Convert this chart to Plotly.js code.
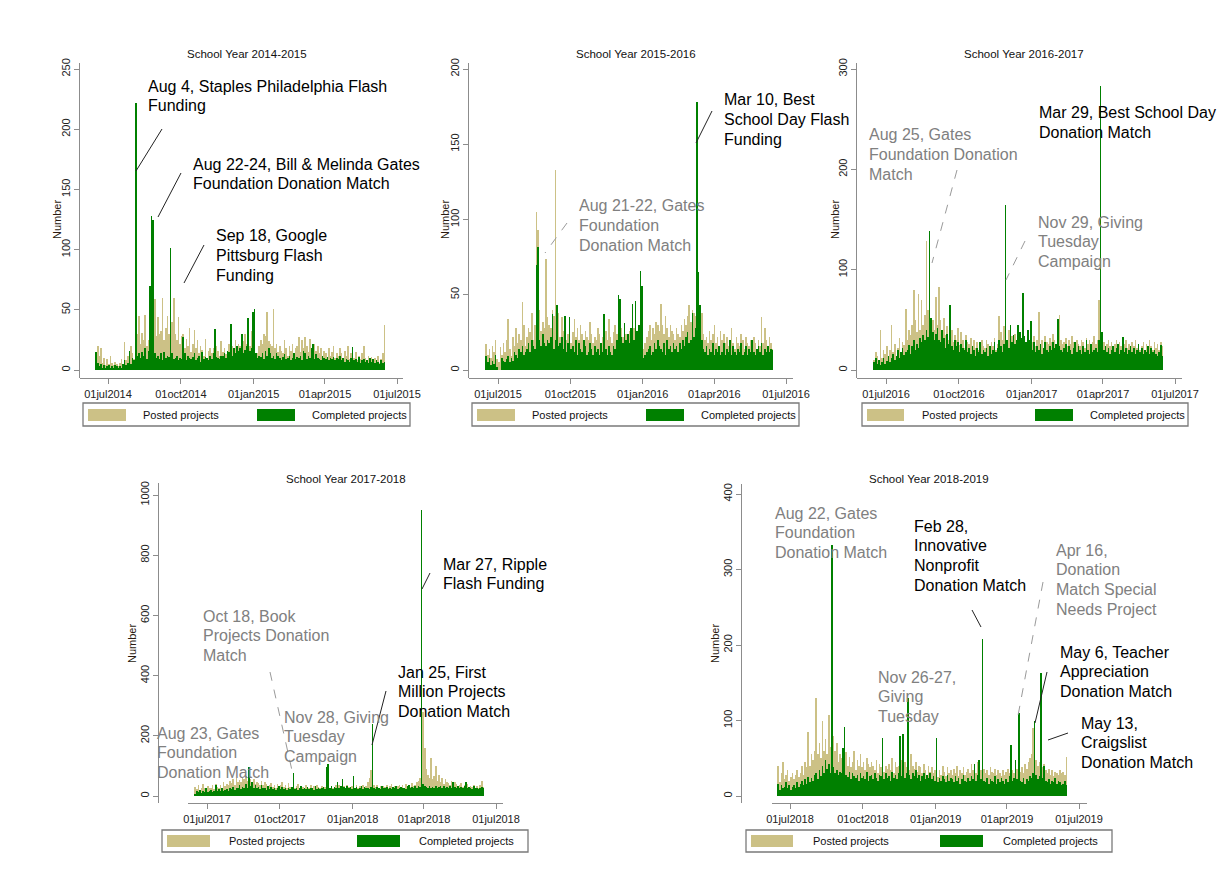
<!DOCTYPE html>
<html><head><meta charset="utf-8">
<script src="https://cdn.plot.ly/plotly-3.0.1.min.js"></script>
<style>html,body{margin:0;padding:0;background:#fff}#chart{width:1225px;height:888px}</style>
</head><body><div id="chart"></div>
<script>
// ---------------- DATA ----------------
const panelTitles = ["School Year 2014-2015","School Year 2015-2016","School Year 2016-2017","School Year 2017-2018","School Year 2018-2019"];
const seriesNames = ["Posted projects","Completed projects"];
// each value = one 2-day bin, starting on these dates
const startDates = ["2014-06-15","2015-06-15","2016-06-15","2017-06-15","2018-06-15"];
const binDays = 2;

const posted2014 = [
8,20,12,18,6,10,4,9,5,12,
6,4,7,5,3,6,9,4,23,8,
12,10,20,14,9,28,30,45,22,31,
25,46,20,25,30,38,35,59,28,44,
30,32,60,25,35,45,30,28,40,60,
30,25,44,22,28,30,18,26,20,35,
15,22,33,18,25,14,20,17,12,26,
10,16,18,14,18,10,20,16,12,24,
15,18,13,10,22,12,20,16,25,18,
22,20,28,24,30,22,26,20,32,18,
15,12,14,20,25,22,30,28,48,24,
22,20,51,18,22,15,20,16,14,25,
18,12,20,16,22,14,18,20,27,15,
25,18,27,20,15,26,18,12,22,16,
20,14,18,12,16,14,10,18,12,15,
20,10,14,12,18,14,10,16,12,20,
9,14,11,10,15,8,12,9,14,20,
10,8,12,9,11,7,10,8,12,6,
9,14,37];
const completed2014 = [
15,6,3,5,2,4,2,3,4,2,
3,2,4,3,2,3,2,5,8,4,
6,16,5,10,8,222,12,14,10,15,
12,18,9,16,70,128,125,14,10,12,
9,14,8,15,10,12,11,101,14,9,
10,12,8,10,9,27,14,8,12,10,
9,11,14,8,10,12,7,15,9,11,
10,8,12,9,14,34,11,10,9,12,
12,14,10,16,15,38,12,18,14,20,
16,18,30,14,17,20,43,16,18,48,
51,14,10,12,11,14,9,16,12,18,
14,10,12,9,14,12,10,8,11,13,
9,10,12,8,10,14,9,11,10,12,
8,16,14,9,12,10,18,22,9,13,
10,9,8,12,10,9,11,8,10,9,
11,8,10,9,12,8,10,7,9,8,
7,10,19,8,9,7,11,6,8,9,
7,8,6,10,7,9,6,8,7,5,
8,6,7];

const posted2015 = [
17,10,14,8,16,12,20,7,5,15,
10,18,12,20,34,14,9,22,16,28,
18,24,20,45,30,16,22,28,25,38,
20,30,105,93,40,26,32,28,74,35,
30,28,40,36,133,30,38,22,35,26,
30,20,24,32,18,25,34,22,28,20,
30,24,18,26,22,20,32,24,18,22,
20,28,24,18,22,30,26,20,34,22,
18,25,30,24,38,36,28,22,30,24,
20,26,22,32,28,34,26,30,38,36,
14,18,22,26,30,20,28,24,32,30,
26,44,30,24,36,28,22,30,26,24,
20,28,24,22,30,26,34,30,36,43,
32,40,38,36,34,30,28,38,24,20,
22,18,26,20,24,30,18,22,16,26,
20,24,18,22,16,20,28,18,14,22,
18,16,24,20,14,22,18,16,20,15,
22,18,14,20,16,35,18,28,20,16,
22,18,14];
const completed2015 = [
9,5,8,3,6,4,10,2,0,0,
8,6,5,7,9,5,8,6,12,10,
8,14,12,16,10,12,14,18,12,20,
16,14,70,82,20,16,24,18,16,20,
18,22,37,14,20,43,16,18,22,14,
36,12,18,35,14,16,12,20,10,18,
14,12,20,16,10,12,18,14,10,16,
12,14,10,18,12,37,14,10,16,12,
10,16,14,20,50,47,22,18,31,20,
24,18,28,44,20,46,26,30,66,56,
8,10,12,14,16,10,12,18,14,20,
16,14,12,18,10,20,14,16,12,18,
14,16,12,18,14,20,16,22,25,18,
20,38,22,28,178,65,43,20,14,12,
16,10,14,12,18,10,14,12,16,10,
12,18,10,14,12,20,10,16,12,10,
14,12,18,10,12,16,10,14,12,20,
12,10,14,16,12,18,10,14,12,16,
12,14,13];

const posted2016 = [
10,18,14,8,40,12,20,16,24,14,
20,45,18,26,14,22,32,18,28,25,
61,30,40,35,45,80,50,38,76,40,
70,45,55,129,60,52,45,50,40,73,
45,83,50,40,52,35,44,30,38,40,
28,35,30,42,25,38,30,22,35,28,
26,32,24,30,22,28,20,26,30,24,
22,30,26,20,28,24,32,20,26,54,
38,30,44,36,30,40,28,34,26,36,
30,40,34,28,38,32,26,30,22,36,
28,34,24,30,58,26,30,22,34,28,
26,32,28,36,30,24,40,55,30,26,
28,32,24,30,26,34,28,22,30,26,
24,30,28,22,32,26,30,24,28,34,
26,30,70,30,24,28,22,26,30,24,
28,20,26,30,22,28,24,20,26,30,
22,26,20,28,24,30,22,26,20,24,
28,20,26,22,30,24,20,28,22,26,
20,28,24];
const completed2016 = [
8,12,6,10,5,8,12,6,9,14,
8,12,16,10,14,20,12,18,22,15,
18,20,25,16,24,30,20,26,22,32,
28,35,30,40,33,139,52,38,30,36,
42,30,28,40,32,22,36,26,65,24,
20,30,24,28,18,26,22,20,30,18,
22,16,24,20,14,22,18,28,16,20,
18,22,14,24,16,20,28,18,22,30,
24,18,26,164,30,22,45,28,35,26,
30,45,38,32,77,34,28,40,30,49,
20,28,18,24,20,26,16,22,28,20,
18,24,20,28,22,26,51,24,20,18,
22,26,18,24,20,16,22,28,18,24,
20,16,24,18,30,20,16,26,18,20,
22,18,30,283,38,20,24,18,22,16,
20,24,18,22,26,16,20,33,18,22,
16,20,24,18,22,16,20,26,18,22,
16,20,18,24,16,22,18,20,16,14,
18,25,14];

const posted2017 = [
30,22,35,18,28,40,25,20,32,26,
28,35,22,40,30,25,38,28,45,32,
40,35,50,42,55,38,60,45,52,48,
60,55,65,50,70,58,45,55,40,48,
42,38,50,35,45,40,32,38,44,30,
36,28,40,32,38,45,30,35,28,42,
30,25,38,28,34,40,26,32,30,28,
35,30,26,38,28,32,25,36,30,28,
34,26,30,40,35,28,32,25,30,38,
28,35,30,26,32,28,36,30,25,32,
30,28,35,26,32,30,38,28,34,45,
60,85,40,35,30,38,28,32,26,34,
30,36,28,32,40,30,34,26,32,38,
30,35,28,40,32,36,30,42,34,38,
45,50,60,120,280,160,90,70,60,125,
55,65,100,50,70,45,60,40,55,48,
42,38,50,35,45,40,32,38,44,30,
36,32,40,28,34,30,38,26,32,28,
35,50,30];
const completed2017 = [
8,15,12,20,10,18,14,25,12,16,
20,14,18,38,15,22,18,25,16,20,
24,18,26,22,30,20,28,25,35,22,
30,26,40,28,95,32,45,28,38,25,
30,22,35,26,28,20,32,24,30,22,
26,20,28,34,22,30,24,28,20,26,
22,30,75,24,28,20,26,32,22,28,
24,30,22,26,28,20,32,24,26,22,
28,30,24,95,105,28,32,24,30,26,
45,28,32,55,30,26,34,28,30,24,
68,26,30,24,28,32,22,30,26,28,
24,30,240,28,22,30,26,24,32,28,
26,30,24,28,22,30,26,32,24,28,
30,26,28,24,32,38,28,30,26,34,
28,32,30,950,40,34,30,28,32,26,
30,28,34,26,30,32,28,34,26,30,
28,32,26,48,30,28,34,26,30,28,
32,45,26,30,28,24,32,26,28,22,
26,30,28];

const posted2018 = [
40,18,30,45,22,28,35,20,25,30,
22,28,35,25,30,40,28,45,38,85,
40,55,48,60,130,55,70,50,100,60,
75,55,107,65,50,80,60,70,45,55,
50,60,45,58,40,52,38,45,60,35,
48,40,55,38,45,35,50,42,38,45,
40,35,48,30,42,38,45,32,40,36,
42,35,50,30,45,38,40,35,48,32,
45,38,42,35,55,40,36,45,32,40,
38,30,42,35,28,40,32,38,30,35,
30,25,35,28,40,32,26,38,30,34,
28,36,30,40,26,34,30,38,28,32,
36,30,42,34,38,30,45,40,34,55,
36,30,34,28,38,32,30,36,28,34,
30,26,34,28,32,36,30,40,34,30,
45,36,40,32,38,30,42,36,45,50,
55,90,60,48,40,45,50,38,42,35,
30,36,28,34,26,32,30,28,34,30,
32,28,52];
const completed2018 = [
16,8,14,10,12,18,10,14,8,12,
15,10,18,12,16,20,14,22,16,25,
18,24,20,28,30,22,35,26,40,30,
48,36,42,30,332,38,30,35,28,32,
30,63,92,28,25,32,22,30,26,24,
28,20,30,24,26,22,32,20,26,28,
22,30,24,20,28,26,77,22,30,24,
26,20,32,24,28,22,30,79,26,82,
24,30,130,28,22,30,26,34,24,28,
20,26,30,22,28,24,30,22,26,20,
77,18,24,20,26,22,18,28,20,24,
22,18,26,20,24,16,22,28,20,18,
24,20,26,22,43,20,28,48,22,208,
20,18,24,16,22,20,18,26,16,22,
18,24,20,16,22,18,26,68,20,24,
48,22,110,20,18,24,16,22,20,26,
24,30,100,28,22,26,163,24,40,20,
18,22,16,20,18,24,16,20,18,14,
16,20,14];

const postedSeries = [posted2014, posted2015, posted2016, posted2017, posted2018];
const completedSeries = [completed2014, completed2015, completed2016, completed2017, completed2018];

const yTickVals = [[0,50,100,150,200,250],[0,50,100,150,200],[0,100,200,300],[0,200,400,600,800,1000],[0,100,200,300,400]];
const xTickDates = [
 ["2014-07-01","2014-10-01","2015-01-01","2015-04-01","2015-07-01"],
 ["2015-07-01","2015-10-01","2016-01-01","2016-04-01","2016-07-01"],
 ["2016-07-01","2016-10-01","2017-01-01","2017-04-01","2017-07-01"],
 ["2017-07-01","2017-10-01","2018-01-01","2018-04-01","2018-07-01"],
 ["2018-07-01","2018-10-01","2019-01-01","2019-04-01","2019-07-01"]];
const xTickText = [
 ["01jul2014","01oct2014","01jan2015","01apr2015","01jul2015"],
 ["01jul2015","01oct2015","01jan2016","01apr2016","01jul2016"],
 ["01jul2016","01oct2016","01jan2017","01apr2017","01jul2017"],
 ["01jul2017","01oct2017","01jan2018","01apr2018","01jul2018"],
 ["01jul2018","01oct2018","01jan2019","01apr2019","01jul2019"]];

// ---------------- LAYOUT / STYLE ----------------
const W = 1225, H = 888;
const FONT = "Arial, 'Liberation Sans', sans-serif";
const TAN = "#ccc186", GREEN = "#008000", AXIS = "#8c8c8c", GRAY = "#808080";
const DAY = 86400000;
const toMs = s => new Date(s + "T00:00:00Z").getTime();
const px = x => x / W, py = y => 1 - y / H;

// pixel geometry of each panel
const geom = [
 {yAxisPx:79,  xl:80,  xr:403,  yt:63,  yb:378, p1:108, p2:397,  y0:370, yT:69},
 {yAxisPx:468, xl:469, xr:793,  yt:63,  yb:378, p1:498, p2:786,  y0:370, yT:69},
 {yAxisPx:856, xl:857, xr:1182, yt:63,  yb:378, p1:886, p2:1175, y0:370, yT:69},
 {yAxisPx:158, xl:188, xr:503,  yt:483, yb:803, p1:207, p2:496,  y0:796, yT:495},
 {yAxisPx:741, xl:772, xr:1087, yt:484, yb:803, p1:790, p2:1079, y0:796, yT:494}];
const titlePos = [[247,54],[636,54],[1024,54],[346,479],[929,479]];
const numberPos = [[57,220],[445,220],[835,220],[132,644],[715,644]];
const legendGeom = [
 {box:[83,410,403,426], tan:[88,126], tt:143, grn:[257,295], gt:312, sw:[409,421], ty:414.5},
 {box:[472,799,403,426], tan:[477,515], tt:532, grn:[646,684], gt:701, sw:[409,421], ty:414.5},
 {box:[862,1188,403,426], tan:[867,904], tt:922, grn:[1035,1073], gt:1090, sw:[409,421], ty:414.5},
 {box:[162,528,830,852], tan:[167,210], tt:229, grn:[357,400], gt:419, sw:[835,847], ty:841},
 {box:[746,1112,830,852], tan:[751,793], tt:813, grn:[940,983], gt:1003, sw:[835,847], ty:841}];

const traces = [];
const layout = {
  width: W, height: H, margin:{l:0,r:0,t:0,b:0},
  paper_bgcolor:"#fff", plot_bgcolor:"#fff",
  showlegend:false, barmode:"overlay", bargap:0,
  font:{family:FONT, color:"#222"},
  annotations:[], shapes:[]
};

for (let p = 0; p < 5; p++) {
  const g = geom[p];
  const sfx = p === 0 ? "" : String(p + 1);
  const t0 = toMs(startDates[p]);
  const xs = postedSeries[p].map((_, i) => new Date(t0 + i * binDays * DAY).toISOString().slice(0, 10));
  const common = {type:"bar", x:xs, xaxis:"x"+sfx, yaxis:"y"+sfx, width:binDays*DAY, offset:0, hoverinfo:"skip"};
  traces.push(Object.assign({}, common, {y:postedSeries[p], name:seriesNames[0], marker:{color:TAN, line:{width:0}}}));
  traces.push(Object.assign({}, common, {y:completedSeries[p], name:seriesNames[1], marker:{color:GREEN, line:{width:0}}}));

  const t1 = toMs(xTickDates[p][0]), t2 = toMs(xTickDates[p][4]);
  const msPerPx = (t2 - t1) / (g.p2 - g.p1);
  const xr = [t1 + (g.xl - g.p1) * msPerPx, t1 + (g.xr - g.p1) * msPerPx];
  const top = yTickVals[p][yTickVals[p].length - 1];
  const uPerPx = top / (g.y0 - g.yT);
  const yr = [-(g.yb - g.y0) * uPerPx, top + (g.yT - g.yt) * uPerPx];

  layout["xaxis"+sfx] = {
    type:"date", domain:[px(g.xl), px(g.xr)], range:xr, anchor:"y"+sfx,
    tickvals:xTickDates[p], ticktext:xTickText[p], ticks:"outside", ticklen:5, tickcolor:AXIS,
    showline:true, linecolor:AXIS, linewidth:1.3, showgrid:false, zeroline:false,
    tickfont:{family:FONT, size:11, color:"#222"}, fixedrange:true
  };
  layout["yaxis"+sfx] = {
    domain:[py(g.yb), py(g.yt)], range:yr, anchor:"free", position:px(g.yAxisPx),
    tickvals:yTickVals[p], ticktext:yTickVals[p].map(String), tickangle:-90,
    ticks:"outside", ticklen:5, tickcolor:AXIS,
    showline:true, linecolor:AXIS, linewidth:1.3, showgrid:false, zeroline:false,
    tickfont:{family:FONT, size:11, color:"#222"}, fixedrange:true
  };

  layout.annotations.push({xref:"paper", yref:"paper", x:px(titlePos[p][0]), y:py(titlePos[p][1]),
    text:panelTitles[p], showarrow:false, xanchor:"center", yanchor:"middle", font:{family:FONT, size:11.5, color:"#111"}});
  layout.annotations.push({xref:"paper", yref:"paper", x:px(numberPos[p][0]), y:py(numberPos[p][1]),
    text:"Number", textangle:-90, showarrow:false, xanchor:"center", yanchor:"middle", font:{family:FONT, size:11, color:"#2a1a10"}});

  const L = legendGeom[p];
  layout.shapes.push({type:"rect", xref:"paper", yref:"paper", x0:px(L.box[0]), x1:px(L.box[1]), y0:py(L.box[3]), y1:py(L.box[2]), line:{color:"#7a7a7a", width:1.3}, fillcolor:"rgba(0,0,0,0)"});
  layout.shapes.push({type:"rect", xref:"paper", yref:"paper", x0:px(L.tan[0]), x1:px(L.tan[1]), y0:py(L.sw[1]), y1:py(L.sw[0]), line:{width:0}, fillcolor:TAN});
  layout.shapes.push({type:"rect", xref:"paper", yref:"paper", x0:px(L.grn[0]), x1:px(L.grn[1]), y0:py(L.sw[1]), y1:py(L.sw[0]), line:{width:0}, fillcolor:GREEN});
  layout.annotations.push({xref:"paper", yref:"paper", x:px(L.tt-2), y:py(L.ty), text:seriesNames[0], showarrow:false, xanchor:"left", yanchor:"middle", font:{family:FONT, size:11, color:"#111"}});
  layout.annotations.push({xref:"paper", yref:"paper", x:px(L.gt-2), y:py(L.ty), text:seriesNames[1], showarrow:false, xanchor:"left", yanchor:"middle", font:{family:FONT, size:11, color:"#111"}});
}

// event call-outs
function txt(lines, x, y, color) {
  lines.forEach((s, k) => layout.annotations.push({xref:"paper", yref:"paper", x:px(x - 2), y:py(y + k * 19.7),
    text:s, showarrow:false, xanchor:"left", yanchor:"middle", font:{family:FONT, size:16, color:color}}));
}
function ln(x0, y0, x1, y1, dashed) {
  layout.shapes.push({type:"line", xref:"paper", yref:"paper", x0:px(x0), y0:py(y0), x1:px(x1), y1:py(y1),
    line:{color: dashed ? "#9a9a9a" : "#222", width:1, dash: dashed ? "dash" : "solid"}, layer:"above"});
}
const K = "#000";
// 2014-2015
txt(["Aug 4, Staples Philadelphia Flash","Funding"], 148, 86, K); ln(162,129,136,171);
txt(["Aug 22-24, Bill &amp; Melinda Gates","Foundation Donation Match"], 193, 164, K); ln(181,173,158,217);
txt(["Sep 18, Google","Pittsburg Flash","Funding"], 216, 236, K); ln(204,245,184,283);
// 2015-2016
txt(["Aug 21-22, Gates","Foundation","Donation Match"], 579, 206, GRAY); ln(567,223,545,253,true);
txt(["Mar 10, Best","School Day Flash","Funding"], 724, 100, K); ln(712,111,696,143);
// 2016-2017
txt(["Aug 25, Gates","Foundation Donation","Match"], 869, 135, GRAY); ln(957,170,932,263,true);
txt(["Mar 29, Best School Day","Donation Match"], 1039, 113, K);
txt(["Nov 29, Giving","Tuesday","Campaign"], 1038, 222, GRAY); ln(1025,241,1006,280,true);
// 2017-2018
txt(["Mar 27, Ripple","Flash Funding"], 443, 564, K); ln(430,573,422,589);
txt(["Oct 18, Book","Projects Donation","Match"], 203, 616, GRAY); ln(270,672,293,775,true);
txt(["Jan 25, First","Million Projects","Donation Match"], 398, 672, K); ln(386,691,372,745);
txt(["Nov 28, Giving","Tuesday","Campaign"], 284, 717, GRAY);
txt(["Aug 23, Gates","Foundation","Donation Match"], 157, 733, GRAY);
// 2018-2019
txt(["Aug 22, Gates","Foundation","Donation Match"], 775, 513, GRAY);
txt(["Feb 28,","Innovative","Nonprofit","Donation Match"], 914, 526, K); ln(972,610,981,627);
txt(["Apr 16,","Donation","Match Special","Needs Project"], 1056, 550, GRAY); ln(1043,582,1017,721,true);
txt(["Nov 26-27,","Giving","Tuesday"], 878, 677, GRAY);
txt(["May 6, Teacher","Appreciation","Donation Match"], 1060, 652, K); ln(1047,672,1035,723);
txt(["May 13,","Craigslist","Donation Match"], 1081, 723, K); ln(1068,733,1048,740);

Plotly.newPlot("chart", traces, layout, {staticPlot:true, displayModeBar:false});
</script>
</body></html>
